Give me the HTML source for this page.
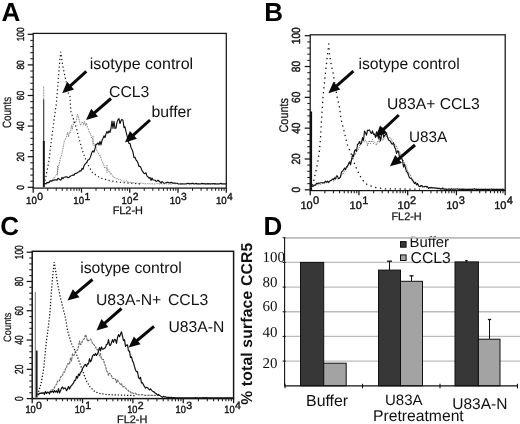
<!DOCTYPE html>
<html lang="en"><head><meta charset="utf-8"><title>Figure</title>
<style>
html,body{margin:0;padding:0;background:#fff;}
body{width:520px;height:424px;overflow:hidden;}
svg{display:block;}
</style></head><body>
<svg width="520" height="424" viewBox="0 0 520 424" text-rendering="geometricPrecision">
<rect x="0" y="0" width="520" height="424" fill="#fff"/>
<text x="1.6" y="21.1" font-family='"Liberation Sans", sans-serif' font-size="26" font-weight="bold" text-anchor="start" fill="#000" >A</text>
<rect x="33.20" y="33.40" width="193.10" height="154.70" fill="none" stroke="#151515" stroke-width="1.25"/>
<line x1="27.70" y1="187.30" x2="33.20" y2="187.30" stroke="#151515" stroke-width="1.25"/>
<line x1="30.30" y1="181.18" x2="33.20" y2="181.18" stroke="#222" stroke-width="1.1"/>
<line x1="30.30" y1="175.06" x2="33.20" y2="175.06" stroke="#222" stroke-width="1.1"/>
<line x1="30.30" y1="168.94" x2="33.20" y2="168.94" stroke="#222" stroke-width="1.1"/>
<line x1="30.30" y1="162.82" x2="33.20" y2="162.82" stroke="#222" stroke-width="1.1"/>
<line x1="27.70" y1="156.70" x2="33.20" y2="156.70" stroke="#151515" stroke-width="1.25"/>
<line x1="30.30" y1="150.58" x2="33.20" y2="150.58" stroke="#222" stroke-width="1.1"/>
<line x1="30.30" y1="144.46" x2="33.20" y2="144.46" stroke="#222" stroke-width="1.1"/>
<line x1="30.30" y1="138.34" x2="33.20" y2="138.34" stroke="#222" stroke-width="1.1"/>
<line x1="30.30" y1="132.22" x2="33.20" y2="132.22" stroke="#222" stroke-width="1.1"/>
<line x1="27.70" y1="126.10" x2="33.20" y2="126.10" stroke="#151515" stroke-width="1.25"/>
<line x1="30.30" y1="119.98" x2="33.20" y2="119.98" stroke="#222" stroke-width="1.1"/>
<line x1="30.30" y1="113.86" x2="33.20" y2="113.86" stroke="#222" stroke-width="1.1"/>
<line x1="30.30" y1="107.74" x2="33.20" y2="107.74" stroke="#222" stroke-width="1.1"/>
<line x1="30.30" y1="101.62" x2="33.20" y2="101.62" stroke="#222" stroke-width="1.1"/>
<line x1="27.70" y1="95.50" x2="33.20" y2="95.50" stroke="#151515" stroke-width="1.25"/>
<line x1="30.30" y1="89.38" x2="33.20" y2="89.38" stroke="#222" stroke-width="1.1"/>
<line x1="30.30" y1="83.26" x2="33.20" y2="83.26" stroke="#222" stroke-width="1.1"/>
<line x1="30.30" y1="77.14" x2="33.20" y2="77.14" stroke="#222" stroke-width="1.1"/>
<line x1="30.30" y1="71.02" x2="33.20" y2="71.02" stroke="#222" stroke-width="1.1"/>
<line x1="27.70" y1="64.90" x2="33.20" y2="64.90" stroke="#151515" stroke-width="1.25"/>
<line x1="30.30" y1="58.78" x2="33.20" y2="58.78" stroke="#222" stroke-width="1.1"/>
<line x1="30.30" y1="52.66" x2="33.20" y2="52.66" stroke="#222" stroke-width="1.1"/>
<line x1="30.30" y1="46.54" x2="33.20" y2="46.54" stroke="#222" stroke-width="1.1"/>
<line x1="30.30" y1="40.42" x2="33.20" y2="40.42" stroke="#222" stroke-width="1.1"/>
<line x1="27.70" y1="34.30" x2="33.20" y2="34.30" stroke="#151515" stroke-width="1.25"/>
<text transform="translate(24.00,187.30) rotate(-90) scale(0.82,1)" font-family='"Liberation Sans", sans-serif' font-size="10.3" text-anchor="middle" fill="#111" stroke="#111" stroke-width="0.4">0</text>
<text transform="translate(24.00,156.70) rotate(-90) scale(0.82,1)" font-family='"Liberation Sans", sans-serif' font-size="10.3" text-anchor="middle" fill="#111" stroke="#111" stroke-width="0.4">20</text>
<text transform="translate(24.00,126.10) rotate(-90) scale(0.82,1)" font-family='"Liberation Sans", sans-serif' font-size="10.3" text-anchor="middle" fill="#111" stroke="#111" stroke-width="0.4">40</text>
<text transform="translate(24.00,95.50) rotate(-90) scale(0.82,1)" font-family='"Liberation Sans", sans-serif' font-size="10.3" text-anchor="middle" fill="#111" stroke="#111" stroke-width="0.4">60</text>
<text transform="translate(24.00,64.90) rotate(-90) scale(0.82,1)" font-family='"Liberation Sans", sans-serif' font-size="10.3" text-anchor="middle" fill="#111" stroke="#111" stroke-width="0.4">80</text>
<text transform="translate(24.00,34.30) rotate(-90) scale(0.82,1)" font-family='"Liberation Sans", sans-serif' font-size="10.3" text-anchor="middle" fill="#111" stroke="#111" stroke-width="0.4">100</text>
<text transform="translate(10.60,112.50) rotate(-90)" font-family='"Liberation Sans", sans-serif' font-size="12" text-anchor="middle" fill="#111" stroke="#111" stroke-width="0.2" textLength="31.2" lengthAdjust="spacingAndGlyphs">Counts</text>
<line x1="33.20" y1="188.10" x2="33.20" y2="192.70" stroke="#151515" stroke-width="1.25"/>
<line x1="47.73" y1="188.10" x2="47.73" y2="190.70" stroke="#222" stroke-width="1.1"/>
<line x1="56.23" y1="188.10" x2="56.23" y2="190.70" stroke="#222" stroke-width="1.1"/>
<line x1="62.26" y1="188.10" x2="62.26" y2="190.70" stroke="#222" stroke-width="1.1"/>
<line x1="66.94" y1="188.10" x2="66.94" y2="190.70" stroke="#222" stroke-width="1.1"/>
<line x1="70.77" y1="188.10" x2="70.77" y2="190.70" stroke="#222" stroke-width="1.1"/>
<line x1="74.00" y1="188.10" x2="74.00" y2="190.70" stroke="#222" stroke-width="1.1"/>
<line x1="76.80" y1="188.10" x2="76.80" y2="190.70" stroke="#222" stroke-width="1.1"/>
<line x1="79.27" y1="188.10" x2="79.27" y2="190.70" stroke="#222" stroke-width="1.1"/>
<line x1="81.48" y1="188.10" x2="81.48" y2="192.70" stroke="#151515" stroke-width="1.25"/>
<line x1="96.01" y1="188.10" x2="96.01" y2="190.70" stroke="#222" stroke-width="1.1"/>
<line x1="104.51" y1="188.10" x2="104.51" y2="190.70" stroke="#222" stroke-width="1.1"/>
<line x1="110.54" y1="188.10" x2="110.54" y2="190.70" stroke="#222" stroke-width="1.1"/>
<line x1="115.22" y1="188.10" x2="115.22" y2="190.70" stroke="#222" stroke-width="1.1"/>
<line x1="119.04" y1="188.10" x2="119.04" y2="190.70" stroke="#222" stroke-width="1.1"/>
<line x1="122.27" y1="188.10" x2="122.27" y2="190.70" stroke="#222" stroke-width="1.1"/>
<line x1="125.07" y1="188.10" x2="125.07" y2="190.70" stroke="#222" stroke-width="1.1"/>
<line x1="127.54" y1="188.10" x2="127.54" y2="190.70" stroke="#222" stroke-width="1.1"/>
<line x1="129.75" y1="188.10" x2="129.75" y2="192.70" stroke="#151515" stroke-width="1.25"/>
<line x1="144.28" y1="188.10" x2="144.28" y2="190.70" stroke="#222" stroke-width="1.1"/>
<line x1="152.78" y1="188.10" x2="152.78" y2="190.70" stroke="#222" stroke-width="1.1"/>
<line x1="158.81" y1="188.10" x2="158.81" y2="190.70" stroke="#222" stroke-width="1.1"/>
<line x1="163.49" y1="188.10" x2="163.49" y2="190.70" stroke="#222" stroke-width="1.1"/>
<line x1="167.32" y1="188.10" x2="167.32" y2="190.70" stroke="#222" stroke-width="1.1"/>
<line x1="170.55" y1="188.10" x2="170.55" y2="190.70" stroke="#222" stroke-width="1.1"/>
<line x1="173.35" y1="188.10" x2="173.35" y2="190.70" stroke="#222" stroke-width="1.1"/>
<line x1="175.82" y1="188.10" x2="175.82" y2="190.70" stroke="#222" stroke-width="1.1"/>
<line x1="178.03" y1="188.10" x2="178.03" y2="192.70" stroke="#151515" stroke-width="1.25"/>
<line x1="192.56" y1="188.10" x2="192.56" y2="190.70" stroke="#222" stroke-width="1.1"/>
<line x1="201.06" y1="188.10" x2="201.06" y2="190.70" stroke="#222" stroke-width="1.1"/>
<line x1="207.09" y1="188.10" x2="207.09" y2="190.70" stroke="#222" stroke-width="1.1"/>
<line x1="211.77" y1="188.10" x2="211.77" y2="190.70" stroke="#222" stroke-width="1.1"/>
<line x1="215.59" y1="188.10" x2="215.59" y2="190.70" stroke="#222" stroke-width="1.1"/>
<line x1="218.82" y1="188.10" x2="218.82" y2="190.70" stroke="#222" stroke-width="1.1"/>
<line x1="221.62" y1="188.10" x2="221.62" y2="190.70" stroke="#222" stroke-width="1.1"/>
<line x1="224.09" y1="188.10" x2="224.09" y2="190.70" stroke="#222" stroke-width="1.1"/>
<line x1="226.30" y1="188.10" x2="226.30" y2="192.70" stroke="#151515" stroke-width="1.25"/>
<text transform="translate(36.90,204.30) scale(0.94,1)" font-family='"Liberation Sans", sans-serif' font-size="10.3" text-anchor="end" fill="#111" stroke="#111" stroke-width="0.4">10</text>
<text x="37.20" y="199.60" font-family='"Liberation Sans", sans-serif' font-size="10.3" text-anchor="start" fill="#111" stroke="#111" stroke-width="0.4">0</text>
<text transform="translate(84.08,204.30) scale(0.94,1)" font-family='"Liberation Sans", sans-serif' font-size="10.3" text-anchor="end" fill="#111" stroke="#111" stroke-width="0.4">10</text>
<text x="84.38" y="199.60" font-family='"Liberation Sans", sans-serif' font-size="10.3" text-anchor="start" fill="#111" stroke="#111" stroke-width="0.4">1</text>
<text transform="translate(132.35,204.30) scale(0.94,1)" font-family='"Liberation Sans", sans-serif' font-size="10.3" text-anchor="end" fill="#111" stroke="#111" stroke-width="0.4">10</text>
<text x="132.65" y="199.60" font-family='"Liberation Sans", sans-serif' font-size="10.3" text-anchor="start" fill="#111" stroke="#111" stroke-width="0.4">2</text>
<text transform="translate(180.63,204.30) scale(0.94,1)" font-family='"Liberation Sans", sans-serif' font-size="10.3" text-anchor="end" fill="#111" stroke="#111" stroke-width="0.4">10</text>
<text x="180.93" y="199.60" font-family='"Liberation Sans", sans-serif' font-size="10.3" text-anchor="start" fill="#111" stroke="#111" stroke-width="0.4">3</text>
<text transform="translate(226.70,204.30) scale(0.94,1)" font-family='"Liberation Sans", sans-serif' font-size="10.3" text-anchor="end" fill="#111" stroke="#111" stroke-width="0.4">10</text>
<text x="227.00" y="199.60" font-family='"Liberation Sans", sans-serif' font-size="10.3" text-anchor="start" fill="#111" stroke="#111" stroke-width="0.4">4</text>
<text x="127.80" y="214.40" font-family='"Liberation Sans", sans-serif' font-size="10.9" text-anchor="middle" fill="#111" stroke="#111" stroke-width="0.25">FL2-H</text>
<line x1="43.7" y1="187.1" x2="43.7" y2="86.0" stroke="#777" stroke-width="0.9" stroke-dasharray="1 0.6"/>
<line x1="43.7" y1="187.1" x2="43.7" y2="99.4" stroke="#333" stroke-width="1.0"/>
<line x1="43.8" y1="187.1" x2="43.8" y2="141.0" stroke="#111" stroke-width="1.9"/>
<line x1="57.6" y1="166.0" x2="57.6" y2="175.5" stroke="#777" stroke-width="1" stroke-dasharray="1 0.7"/>
<line x1="93.0" y1="136.0" x2="93.0" y2="146.0" stroke="#777" stroke-width="1" stroke-dasharray="1 0.7"/>
<line x1="107.0" y1="165.0" x2="107.0" y2="173.0" stroke="#777" stroke-width="1" stroke-dasharray="1 0.7"/>
<polyline points="44.5,184.0 45.0,181.5 48.9,161.0 51.5,139.6 54.2,118.5 56.3,104.0 57.5,90.0 58.8,72.5 59.8,60.0 60.8,52.0 61.6,58.0 62.6,65.0 64.4,73.8 66.9,85.0 68.3,93.0 70.0,96.5 70.4,105.0 71.0,112.0 72.6,116.5 76.6,129.0 79.3,139.6 83.2,152.8 87.2,163.4 92.5,172.7 100.4,178.0 111.0,181.0 121.5,182.5 140.0,183.9" fill="none" stroke="#111" stroke-width="1.2" stroke-dasharray="1.2 2.6" stroke-dashoffset="0.50" stroke-linejoin="round" />
<polyline points="44.5,183.9 45.5,183.7 46.5,182.8 47.5,182.9 48.5,182.0 49.5,181.0 50.5,180.7 51.5,180.5 52.5,179.5 53.5,177.6 54.5,177.8 55.5,175.8 56.5,174.5 57.5,171.8 58.5,166.1 59.5,163.0 60.5,157.1 61.5,155.8 62.5,150.5 63.5,145.5 64.5,140.3 65.5,139.0 66.5,136.6 67.5,132.1 68.5,136.9 69.5,131.7 70.5,132.6 71.5,125.3 72.5,129.3 73.5,121.5 74.5,121.5 75.5,122.8 76.5,120.5 77.5,114.3 78.5,116.8 79.5,121.6 80.5,125.2 81.5,123.5 82.5,121.8 83.5,124.8 84.5,121.5 85.5,125.8 86.5,123.2 87.5,127.6 88.5,129.1 89.5,132.8 90.5,132.9 91.5,138.3 92.5,138.3 93.5,142.9 94.5,145.6 95.5,144.1 96.5,149.8 97.5,152.1 98.5,152.8 99.5,156.2 100.5,155.8 101.5,160.4 102.5,162.2 103.5,163.7 104.5,168.0 105.5,167.1 106.5,168.2 107.5,168.7 108.5,171.2 109.5,171.3 110.5,174.5 111.5,173.7 112.5,175.2 113.5,177.5 114.5,177.6 115.5,177.7 116.5,179.1 117.5,178.6 118.5,179.6 119.5,179.5 120.5,179.4 121.5,180.6 122.5,181.3 123.5,181.1 124.5,181.0 125.5,181.5 126.5,180.8 127.5,181.7 128.5,181.7 129.5,183.1 130.5,182.2 131.5,181.9 132.5,183.0 133.5,182.7 134.5,182.9 135.5,183.1 136.5,183.1 137.5,183.0 138.5,183.5 139.5,183.4 140.5,183.1 141.5,183.3 142.5,183.1 143.5,183.5 144.5,183.7 145.5,183.7 146.5,183.8 147.5,183.6 148.5,184.0 149.5,183.7 150.5,183.8 151.5,183.7 152.5,183.8 153.5,183.8 154.5,184.0 155.5,183.9 156.5,183.4 157.5,183.7 158.5,183.5 159.5,184.0 160.5,184.0 161.5,183.7 162.5,184.0 163.5,183.8 164.5,183.9 165.5,184.0 166.5,183.8 167.5,183.6 168.5,184.0 169.5,184.0 170.5,184.0 171.5,184.0 172.5,183.7 173.5,183.4 174.5,184.0 175.5,183.8 176.5,183.6 177.5,183.6 178.5,184.0 179.5,183.9 180.5,183.9 181.5,184.0 182.5,183.7 183.5,183.6 184.5,183.7 185.5,183.7 186.5,183.8 187.5,183.7 188.5,183.9 189.5,183.8 190.5,183.9 191.5,184.0 192.5,184.0 193.5,184.0 194.5,183.9 195.5,184.0 196.5,183.8 197.5,184.0 198.5,184.0 199.5,183.8 200.5,184.0 201.5,183.9 202.5,183.9 203.5,184.0 204.5,183.9 205.5,184.0 206.5,183.6 207.5,183.8 208.5,183.9 209.5,183.7 210.5,184.0 211.5,183.7 212.5,184.0 213.5,183.7 214.5,183.9 215.5,184.0 216.5,184.0 217.5,184.0 218.5,184.0 219.5,184.0 220.5,184.0 221.5,183.9 222.5,183.9 223.5,183.7 224.5,184.0 225.5,184.0 226.5,183.9" fill="none" stroke="#777" stroke-width="1.0" stroke-dasharray="1 0.8" stroke-linejoin="round" />
<polyline points="44.0,184.0 45.0,183.5 46.0,184.0 47.0,182.6 48.0,182.4 49.0,182.7 50.0,181.1 51.0,180.9 52.0,181.1 53.0,180.6 54.0,179.8 55.0,180.1 56.0,179.8 57.0,180.1 58.0,178.4 59.0,178.8 60.0,179.8 61.0,180.1 62.0,177.4 63.0,178.7 64.0,177.2 65.0,177.1 66.0,176.8 67.0,176.9 68.0,177.8 69.0,177.3 70.0,176.5 71.0,175.7 72.0,175.5 73.0,174.9 74.0,175.3 75.0,173.4 76.0,173.5 77.0,172.9 78.0,172.3 79.0,171.8 80.0,170.7 81.0,171.1 82.0,168.4 83.0,169.4 84.0,165.9 85.0,164.1 86.0,163.1 87.0,161.8 88.0,159.9 89.0,159.8 90.0,157.9 91.0,155.2 92.0,152.1 93.0,150.9 94.0,152.1 95.0,148.6 96.0,144.4 97.0,144.1 98.0,142.9 99.0,145.0 100.0,141.4 101.0,144.9 102.0,140.5 103.0,138.3 104.0,135.9 105.0,137.6 106.0,133.9 107.0,131.4 108.0,133.3 109.0,130.9 110.0,132.4 111.0,128.5 112.0,121.1 113.0,128.4 114.0,121.3 115.0,128.3 116.0,128.1 117.0,122.1 118.0,119.7 119.0,118.7 120.0,123.6 121.0,120.7 122.0,119.4 123.0,120.4 124.0,127.6 125.0,126.8 126.0,131.7 127.0,135.6 128.0,139.8 129.0,143.5 130.0,143.5 131.0,147.5 132.0,149.4 133.0,152.3 134.0,157.7 135.0,157.2 136.0,159.9 137.0,161.0 138.0,163.1 139.0,166.5 140.0,166.4 141.0,167.9 142.0,170.6 143.0,171.9 144.0,173.3 145.0,173.7 146.0,172.8 147.0,176.1 148.0,176.9 149.0,178.2 150.0,177.4 151.0,180.4 152.0,178.1 153.0,180.0 154.0,180.0 155.0,180.2 156.0,181.4 157.0,181.0 158.0,180.2 159.0,181.0 160.0,182.0 161.0,183.1 162.0,181.5 163.0,182.4 164.0,183.2 165.0,183.0 166.0,182.7 167.0,182.4 168.0,182.3 169.0,182.7 170.0,182.9 171.0,182.3 172.0,182.6 173.0,183.3 174.0,183.1 175.0,183.1 176.0,183.3 177.0,183.2 178.0,183.8 179.0,184.0 180.0,184.0 181.0,183.8 182.0,183.8 183.0,184.0 184.0,184.0 185.0,184.0 186.0,184.0 187.0,183.5 188.0,183.2 189.0,183.9 190.0,183.6 191.0,183.7 192.0,183.4 193.0,183.3 194.0,184.0 195.0,183.8 196.0,183.4 197.0,183.8 198.0,183.8 199.0,183.9 200.0,184.0 201.0,183.7 202.0,183.4 203.0,183.8 204.0,183.6 205.0,183.9 206.0,183.8 207.0,183.9 208.0,183.6 209.0,183.9 210.0,183.7 211.0,183.9 212.0,183.7 213.0,183.5 214.0,183.9 215.0,183.6 216.0,184.0 217.0,183.9 218.0,184.0 219.0,183.9 220.0,183.8 221.0,183.3 222.0,184.0 223.0,183.7 224.0,184.0 225.0,183.7 226.0,183.9 227.0,183.8" fill="none" stroke="#111" stroke-width="1.15" stroke-linejoin="round" />
<text x="89.8" y="69.0" font-family='"Liberation Sans", sans-serif' font-size="16.05" font-weight="normal" text-anchor="start" fill="#111" >isotype control</text>
<text x="109.0" y="96.5" font-family='"Liberation Sans", sans-serif' font-size="15.8" font-weight="normal" text-anchor="start" fill="#111" >CCL3</text>
<text x="151.5" y="117.0" font-family='"Liberation Sans", sans-serif' font-size="15.8" font-weight="normal" text-anchor="start" fill="#111" >buffer</text>
<line x1="86.3" y1="71.4" x2="69.8" y2="86.3" stroke="#0a0a0a" stroke-width="3.0"/>
<polygon points="62.2,93.2 67.1,81.8 74.1,89.5" fill="#0a0a0a"/>
<line x1="111.0" y1="98.5" x2="93.8" y2="113.3" stroke="#0a0a0a" stroke-width="3.0"/>
<polygon points="86.0,120.0 91.2,108.7 98.0,116.6" fill="#0a0a0a"/>
<line x1="150.0" y1="120.0" x2="132.7" y2="135.6" stroke="#0a0a0a" stroke-width="3.0"/>
<polygon points="125.0,142.5 129.9,131.1 136.9,138.8" fill="#0a0a0a"/>
<text x="264.2" y="20.5" font-family='"Liberation Sans", sans-serif' font-size="26" font-weight="bold" text-anchor="start" fill="#000" >B</text>
<rect x="310.20" y="34.80" width="195.00" height="155.80" fill="none" stroke="#151515" stroke-width="1.25"/>
<line x1="304.70" y1="189.80" x2="310.20" y2="189.80" stroke="#151515" stroke-width="1.25"/>
<line x1="307.30" y1="183.64" x2="310.20" y2="183.64" stroke="#222" stroke-width="1.1"/>
<line x1="307.30" y1="177.47" x2="310.20" y2="177.47" stroke="#222" stroke-width="1.1"/>
<line x1="307.30" y1="171.31" x2="310.20" y2="171.31" stroke="#222" stroke-width="1.1"/>
<line x1="307.30" y1="165.14" x2="310.20" y2="165.14" stroke="#222" stroke-width="1.1"/>
<line x1="304.70" y1="158.98" x2="310.20" y2="158.98" stroke="#151515" stroke-width="1.25"/>
<line x1="307.30" y1="152.82" x2="310.20" y2="152.82" stroke="#222" stroke-width="1.1"/>
<line x1="307.30" y1="146.65" x2="310.20" y2="146.65" stroke="#222" stroke-width="1.1"/>
<line x1="307.30" y1="140.49" x2="310.20" y2="140.49" stroke="#222" stroke-width="1.1"/>
<line x1="307.30" y1="134.32" x2="310.20" y2="134.32" stroke="#222" stroke-width="1.1"/>
<line x1="304.70" y1="128.16" x2="310.20" y2="128.16" stroke="#151515" stroke-width="1.25"/>
<line x1="307.30" y1="122.00" x2="310.20" y2="122.00" stroke="#222" stroke-width="1.1"/>
<line x1="307.30" y1="115.83" x2="310.20" y2="115.83" stroke="#222" stroke-width="1.1"/>
<line x1="307.30" y1="109.67" x2="310.20" y2="109.67" stroke="#222" stroke-width="1.1"/>
<line x1="307.30" y1="103.50" x2="310.20" y2="103.50" stroke="#222" stroke-width="1.1"/>
<line x1="304.70" y1="97.34" x2="310.20" y2="97.34" stroke="#151515" stroke-width="1.25"/>
<line x1="307.30" y1="91.18" x2="310.20" y2="91.18" stroke="#222" stroke-width="1.1"/>
<line x1="307.30" y1="85.01" x2="310.20" y2="85.01" stroke="#222" stroke-width="1.1"/>
<line x1="307.30" y1="78.85" x2="310.20" y2="78.85" stroke="#222" stroke-width="1.1"/>
<line x1="307.30" y1="72.68" x2="310.20" y2="72.68" stroke="#222" stroke-width="1.1"/>
<line x1="304.70" y1="66.52" x2="310.20" y2="66.52" stroke="#151515" stroke-width="1.25"/>
<line x1="307.30" y1="60.36" x2="310.20" y2="60.36" stroke="#222" stroke-width="1.1"/>
<line x1="307.30" y1="54.19" x2="310.20" y2="54.19" stroke="#222" stroke-width="1.1"/>
<line x1="307.30" y1="48.03" x2="310.20" y2="48.03" stroke="#222" stroke-width="1.1"/>
<line x1="307.30" y1="41.86" x2="310.20" y2="41.86" stroke="#222" stroke-width="1.1"/>
<line x1="304.70" y1="35.70" x2="310.20" y2="35.70" stroke="#151515" stroke-width="1.25"/>
<text transform="translate(299.60,189.80) rotate(-90) scale(0.86,1)" font-family='"Liberation Sans", sans-serif' font-size="11.8" text-anchor="middle" fill="#111" stroke="#111" stroke-width="0.4">0</text>
<text transform="translate(299.60,158.98) rotate(-90) scale(0.86,1)" font-family='"Liberation Sans", sans-serif' font-size="11.8" text-anchor="middle" fill="#111" stroke="#111" stroke-width="0.4">20</text>
<text transform="translate(299.60,128.16) rotate(-90) scale(0.86,1)" font-family='"Liberation Sans", sans-serif' font-size="11.8" text-anchor="middle" fill="#111" stroke="#111" stroke-width="0.4">40</text>
<text transform="translate(299.60,97.34) rotate(-90) scale(0.86,1)" font-family='"Liberation Sans", sans-serif' font-size="11.8" text-anchor="middle" fill="#111" stroke="#111" stroke-width="0.4">60</text>
<text transform="translate(299.60,66.52) rotate(-90) scale(0.86,1)" font-family='"Liberation Sans", sans-serif' font-size="11.8" text-anchor="middle" fill="#111" stroke="#111" stroke-width="0.4">80</text>
<text transform="translate(299.60,35.70) rotate(-90) scale(0.86,1)" font-family='"Liberation Sans", sans-serif' font-size="11.8" text-anchor="middle" fill="#111" stroke="#111" stroke-width="0.4">100</text>
<text transform="translate(287.60,115.30) rotate(-90)" font-family='"Liberation Sans", sans-serif' font-size="12.6" text-anchor="middle" fill="#111" stroke="#111" stroke-width="0.2" textLength="34.4" lengthAdjust="spacingAndGlyphs">Counts</text>
<line x1="310.20" y1="190.60" x2="310.20" y2="195.20" stroke="#151515" stroke-width="1.25"/>
<line x1="324.88" y1="190.60" x2="324.88" y2="193.20" stroke="#222" stroke-width="1.1"/>
<line x1="333.46" y1="190.60" x2="333.46" y2="193.20" stroke="#222" stroke-width="1.1"/>
<line x1="339.55" y1="190.60" x2="339.55" y2="193.20" stroke="#222" stroke-width="1.1"/>
<line x1="344.27" y1="190.60" x2="344.27" y2="193.20" stroke="#222" stroke-width="1.1"/>
<line x1="348.13" y1="190.60" x2="348.13" y2="193.20" stroke="#222" stroke-width="1.1"/>
<line x1="351.40" y1="190.60" x2="351.40" y2="193.20" stroke="#222" stroke-width="1.1"/>
<line x1="354.23" y1="190.60" x2="354.23" y2="193.20" stroke="#222" stroke-width="1.1"/>
<line x1="356.72" y1="190.60" x2="356.72" y2="193.20" stroke="#222" stroke-width="1.1"/>
<line x1="358.95" y1="190.60" x2="358.95" y2="195.20" stroke="#151515" stroke-width="1.25"/>
<line x1="373.63" y1="190.60" x2="373.63" y2="193.20" stroke="#222" stroke-width="1.1"/>
<line x1="382.21" y1="190.60" x2="382.21" y2="193.20" stroke="#222" stroke-width="1.1"/>
<line x1="388.30" y1="190.60" x2="388.30" y2="193.20" stroke="#222" stroke-width="1.1"/>
<line x1="393.02" y1="190.60" x2="393.02" y2="193.20" stroke="#222" stroke-width="1.1"/>
<line x1="396.88" y1="190.60" x2="396.88" y2="193.20" stroke="#222" stroke-width="1.1"/>
<line x1="400.15" y1="190.60" x2="400.15" y2="193.20" stroke="#222" stroke-width="1.1"/>
<line x1="402.98" y1="190.60" x2="402.98" y2="193.20" stroke="#222" stroke-width="1.1"/>
<line x1="405.47" y1="190.60" x2="405.47" y2="193.20" stroke="#222" stroke-width="1.1"/>
<line x1="407.70" y1="190.60" x2="407.70" y2="195.20" stroke="#151515" stroke-width="1.25"/>
<line x1="422.38" y1="190.60" x2="422.38" y2="193.20" stroke="#222" stroke-width="1.1"/>
<line x1="430.96" y1="190.60" x2="430.96" y2="193.20" stroke="#222" stroke-width="1.1"/>
<line x1="437.05" y1="190.60" x2="437.05" y2="193.20" stroke="#222" stroke-width="1.1"/>
<line x1="441.77" y1="190.60" x2="441.77" y2="193.20" stroke="#222" stroke-width="1.1"/>
<line x1="445.63" y1="190.60" x2="445.63" y2="193.20" stroke="#222" stroke-width="1.1"/>
<line x1="448.90" y1="190.60" x2="448.90" y2="193.20" stroke="#222" stroke-width="1.1"/>
<line x1="451.73" y1="190.60" x2="451.73" y2="193.20" stroke="#222" stroke-width="1.1"/>
<line x1="454.22" y1="190.60" x2="454.22" y2="193.20" stroke="#222" stroke-width="1.1"/>
<line x1="456.45" y1="190.60" x2="456.45" y2="195.20" stroke="#151515" stroke-width="1.25"/>
<line x1="471.13" y1="190.60" x2="471.13" y2="193.20" stroke="#222" stroke-width="1.1"/>
<line x1="479.71" y1="190.60" x2="479.71" y2="193.20" stroke="#222" stroke-width="1.1"/>
<line x1="485.80" y1="190.60" x2="485.80" y2="193.20" stroke="#222" stroke-width="1.1"/>
<line x1="490.52" y1="190.60" x2="490.52" y2="193.20" stroke="#222" stroke-width="1.1"/>
<line x1="494.38" y1="190.60" x2="494.38" y2="193.20" stroke="#222" stroke-width="1.1"/>
<line x1="497.65" y1="190.60" x2="497.65" y2="193.20" stroke="#222" stroke-width="1.1"/>
<line x1="500.48" y1="190.60" x2="500.48" y2="193.20" stroke="#222" stroke-width="1.1"/>
<line x1="502.97" y1="190.60" x2="502.97" y2="193.20" stroke="#222" stroke-width="1.1"/>
<line x1="505.20" y1="190.60" x2="505.20" y2="195.20" stroke="#151515" stroke-width="1.25"/>
<text transform="translate(312.70,209.00) scale(1.00,1)" font-family='"Liberation Sans", sans-serif' font-size="11" text-anchor="end" fill="#111" stroke="#111" stroke-width="0.4">10</text>
<text x="313.00" y="204.30" font-family='"Liberation Sans", sans-serif' font-size="11" text-anchor="start" fill="#111" stroke="#111" stroke-width="0.4">0</text>
<text transform="translate(361.85,209.00) scale(1.00,1)" font-family='"Liberation Sans", sans-serif' font-size="11" text-anchor="end" fill="#111" stroke="#111" stroke-width="0.4">10</text>
<text x="362.15" y="204.30" font-family='"Liberation Sans", sans-serif' font-size="11" text-anchor="start" fill="#111" stroke="#111" stroke-width="0.4">1</text>
<text transform="translate(409.80,209.00) scale(1.00,1)" font-family='"Liberation Sans", sans-serif' font-size="11" text-anchor="end" fill="#111" stroke="#111" stroke-width="0.4">10</text>
<text x="410.10" y="204.30" font-family='"Liberation Sans", sans-serif' font-size="11" text-anchor="start" fill="#111" stroke="#111" stroke-width="0.4">2</text>
<text transform="translate(458.45,209.00) scale(1.00,1)" font-family='"Liberation Sans", sans-serif' font-size="11" text-anchor="end" fill="#111" stroke="#111" stroke-width="0.4">10</text>
<text x="458.75" y="204.30" font-family='"Liberation Sans", sans-serif' font-size="11" text-anchor="start" fill="#111" stroke="#111" stroke-width="0.4">3</text>
<text transform="translate(506.40,209.00) scale(1.00,1)" font-family='"Liberation Sans", sans-serif' font-size="11" text-anchor="end" fill="#111" stroke="#111" stroke-width="0.4">10</text>
<text x="506.70" y="204.30" font-family='"Liberation Sans", sans-serif' font-size="11" text-anchor="start" fill="#111" stroke="#111" stroke-width="0.4">4</text>
<text x="406.60" y="220.00" font-family='"Liberation Sans", sans-serif' font-size="10.9" text-anchor="middle" fill="#111" stroke="#111" stroke-width="0.25">FL2-H</text>
<line x1="311" y1="111.5" x2="311" y2="190.6" stroke="#111" stroke-width="2.2"/>
<polyline points="311.5,188.0 313.0,184.0 315.0,175.0 317.5,164.0 319.5,150.0 320.5,138.0 321.2,125.0 322.0,112.5 323.0,97.5 324.2,85.0 325.5,72.5 327.0,59.0 328.8,44.0 329.5,54.0 331.2,65.0 333.0,72.5 335.0,85.0 337.0,96.2 339.5,107.5 341.2,120.0 343.8,130.0 346.2,140.0 347.5,145.0 351.2,153.8 355.0,165.0 358.8,173.8 362.5,180.0 367.5,185.0 375.0,187.5 385.0,188.8 420.0,189.2" fill="none" stroke="#111" stroke-width="1.3" stroke-dasharray="1.3 3.6" stroke-dashoffset="2.30" stroke-linejoin="round" />
<polyline points="311.5,187.5 312.5,186.7 313.5,186.4 314.5,186.0 315.5,184.8 316.5,185.5 317.5,184.4 318.5,184.9 319.5,184.2 320.5,184.7 321.5,183.7 322.5,183.5 323.5,182.6 324.5,183.4 325.5,182.6 326.5,182.9 327.5,182.7 328.5,182.5 329.5,181.6 330.5,180.3 331.5,180.5 332.5,181.5 333.5,181.1 334.5,180.8 335.5,179.0 336.5,178.1 337.5,179.0 338.5,178.5 339.5,177.2 340.5,176.3 341.5,174.1 342.5,173.8 343.5,174.0 344.5,170.7 345.5,169.7 346.5,168.4 347.5,166.7 348.5,163.4 349.5,163.2 350.5,161.3 351.5,159.6 352.5,157.5 353.5,156.0 354.5,152.7 355.5,154.5 356.5,150.1 357.5,150.9 358.5,149.5 359.5,146.2 360.5,143.0 361.5,140.5 362.5,140.6 363.5,141.8 364.5,141.9 365.5,140.3 366.5,140.8 367.5,146.0 368.5,142.5 369.5,140.5 370.5,143.5 371.5,141.4 372.5,139.5 373.5,143.6 374.5,142.3 375.5,143.3 376.5,145.3 377.5,142.0 378.5,139.7 379.5,142.8 380.5,136.2 381.5,137.0 382.5,140.3 383.5,139.7 384.5,136.2 385.5,135.3 386.5,137.2 387.5,137.5 388.5,137.7 389.5,137.7 390.5,137.7 391.5,139.9 392.5,141.7 393.5,143.1 394.5,144.0 395.5,146.2 396.5,145.3 397.5,150.7 398.5,153.0 399.5,152.0 400.5,152.9 401.5,157.1 402.5,159.3 403.5,160.6 404.5,164.1 405.5,164.7 406.5,166.5 407.5,171.5 408.5,172.0 409.5,174.5 410.5,174.9 411.5,177.9 412.5,179.1 413.5,180.7 414.5,182.2 415.5,182.7 416.5,182.6 417.5,184.5 418.5,184.8 419.5,185.4 420.5,185.5 421.5,185.9 422.5,185.7 423.5,186.0 424.5,186.7 425.5,187.0 426.5,187.6 427.5,186.6 428.5,187.6 429.5,187.6 430.5,188.3 431.5,187.9 432.5,188.0 433.5,188.3 434.5,188.5 435.5,188.0 436.5,188.3 437.5,188.9 438.5,188.9 439.5,188.9 440.5,189.3 441.5,188.7 442.5,189.0 443.5,188.9 444.5,189.1 445.5,188.9 446.5,189.1 447.5,189.4 448.5,189.2 449.5,189.1 450.5,189.4 451.5,189.2 452.5,189.4 453.5,188.9 454.5,188.9 455.5,188.7 456.5,188.9 457.5,188.8 458.5,189.4 459.5,189.2 460.5,189.3 461.5,189.2 462.5,189.2 463.5,189.1 464.5,188.9 465.5,189.4 466.5,189.1 467.5,189.4 468.5,189.3 469.5,189.0 470.5,189.2 471.5,189.2 472.5,189.1 473.5,189.1 474.5,189.2 475.5,189.1 476.5,189.1 477.5,189.3 478.5,189.3 479.5,189.2 480.5,189.4 481.5,189.2 482.5,189.4 483.5,189.3 484.5,189.4 485.5,189.0 486.5,189.4 487.5,189.3 488.5,189.4 489.5,189.3 490.5,189.3 491.5,189.4 492.5,189.3 493.5,189.3 494.5,189.4 495.5,189.4 496.5,189.1 497.5,189.4 498.5,189.4 499.5,189.4 500.5,189.4 501.5,189.1 502.5,189.2 503.5,189.4 504.5,189.3" fill="none" stroke="#555" stroke-width="1.0" stroke-dasharray="1 1.2" stroke-linejoin="round" />
<polyline points="311.5,186.2 312.5,186.4 313.5,185.7 314.5,185.1 315.5,185.2 316.5,183.4 317.5,183.5 318.5,183.1 319.5,183.3 320.5,182.8 321.5,182.7 322.5,182.8 323.5,182.9 324.5,182.4 325.5,181.2 326.5,182.1 327.5,181.1 328.5,182.6 329.5,181.4 330.5,180.5 331.5,180.2 332.5,178.9 333.5,179.6 334.5,177.8 335.5,178.9 336.5,175.9 337.5,176.1 338.5,178.7 339.5,178.2 340.5,177.1 341.5,172.0 342.5,171.1 343.5,169.8 344.5,168.1 345.5,169.6 346.5,167.0 347.5,166.2 348.5,163.9 349.5,161.8 350.5,164.8 351.5,160.1 352.5,154.8 353.5,156.8 354.5,150.9 355.5,149.7 356.5,151.3 357.5,144.5 358.5,143.7 359.5,141.5 360.5,144.3 361.5,143.2 362.5,137.6 363.5,140.4 364.5,131.1 365.5,132.7 366.5,135.2 367.5,130.2 368.5,130.5 369.5,129.9 370.5,132.4 371.5,133.5 372.5,130.9 373.5,134.4 374.5,133.9 375.5,137.4 376.5,131.8 377.5,133.8 378.5,138.3 379.5,136.0 380.5,140.8 381.5,134.5 382.5,128.0 383.5,137.2 384.5,135.5 385.5,134.8 386.5,133.3 387.5,137.0 388.5,140.0 389.5,140.6 390.5,141.3 391.5,143.8 392.5,144.1 393.5,142.8 394.5,147.0 395.5,148.9 396.5,153.4 397.5,151.3 398.5,151.1 399.5,157.6 400.5,158.8 401.5,158.7 402.5,160.0 403.5,167.0 404.5,164.1 405.5,168.1 406.5,171.8 407.5,172.2 408.5,175.2 409.5,177.7 410.5,178.2 411.5,178.7 412.5,180.4 413.5,181.7 414.5,183.6 415.5,182.3 416.5,184.9 417.5,183.5 418.5,185.7 419.5,186.6 420.5,186.3 421.5,185.5 422.5,187.0 423.5,186.8 424.5,186.6 425.5,186.4 426.5,186.5 427.5,186.9 428.5,188.5 429.5,187.6 430.5,187.8 431.5,187.4 432.5,187.9 433.5,187.8 434.5,187.7 435.5,188.2 436.5,188.0 437.5,188.4 438.5,188.4 439.5,188.3 440.5,188.9 441.5,189.0 442.5,188.0 443.5,189.0 444.5,189.1 445.5,189.1 446.5,189.4 447.5,189.2 448.5,189.1 449.5,189.0 450.5,189.4 451.5,188.8 452.5,189.2 453.5,189.1 454.5,189.2 455.5,189.2 456.5,189.0 457.5,189.0 458.5,189.3 459.5,189.1 460.5,189.4 461.5,189.4 462.5,189.1 463.5,189.4 464.5,189.3 465.5,189.4 466.5,189.4 467.5,189.4 468.5,189.2 469.5,189.4 470.5,189.4 471.5,189.4 472.5,189.4 473.5,189.1 474.5,188.7 475.5,189.3 476.5,189.3 477.5,189.3 478.5,189.4 479.5,189.4 480.5,189.4 481.5,189.3 482.5,189.4 483.5,189.4 484.5,189.2 485.5,189.4 486.5,189.4 487.5,189.4 488.5,189.4 489.5,189.4 490.5,189.3 491.5,189.1 492.5,189.4 493.5,189.4 494.5,189.4 495.5,189.4 496.5,189.4 497.5,189.4 498.5,189.4 499.5,189.4 500.5,189.4 501.5,189.4 502.5,189.4 503.5,189.4 504.5,189.4" fill="none" stroke="#111" stroke-width="1.15" stroke-linejoin="round" />
<text x="358.5" y="69.0" font-family='"Liberation Sans", sans-serif' font-size="15.7" font-weight="normal" text-anchor="start" fill="#111" >isotype control</text>
<text x="386.9" y="108.5" font-family='"Liberation Sans", sans-serif' font-size="15.7" font-weight="normal" text-anchor="start" fill="#111" >U83A+ CCL3</text>
<text x="409.0" y="141.5" font-family='"Liberation Sans", sans-serif' font-size="15.3" font-weight="normal" text-anchor="start" fill="#111" >U83A</text>
<line x1="353.4" y1="71.2" x2="336.1" y2="86.4" stroke="#0a0a0a" stroke-width="3.0"/>
<polygon points="328.4,93.2 333.4,81.8 340.3,89.6" fill="#0a0a0a"/>
<line x1="398.8" y1="115.0" x2="383.0" y2="129.9" stroke="#0a0a0a" stroke-width="3.0"/>
<polygon points="375.5,137.0 380.1,125.5 387.3,133.0" fill="#0a0a0a"/>
<line x1="415.0" y1="145.0" x2="397.8" y2="159.6" stroke="#0a0a0a" stroke-width="3.0"/>
<polygon points="390.0,166.2 395.2,155.0 402.0,162.9" fill="#0a0a0a"/>
<text x="0.2" y="234.8" font-family='"Liberation Sans", sans-serif' font-size="26" font-weight="bold" text-anchor="start" fill="#000" >C</text>
<rect x="32.20" y="251.30" width="201.40" height="147.30" fill="none" stroke="#151515" stroke-width="1.5"/>
<line x1="26.70" y1="398.60" x2="32.20" y2="398.60" stroke="#151515" stroke-width="1.25"/>
<line x1="29.30" y1="392.74" x2="32.20" y2="392.74" stroke="#222" stroke-width="1.1"/>
<line x1="29.30" y1="386.89" x2="32.20" y2="386.89" stroke="#222" stroke-width="1.1"/>
<line x1="29.30" y1="381.03" x2="32.20" y2="381.03" stroke="#222" stroke-width="1.1"/>
<line x1="29.30" y1="375.18" x2="32.20" y2="375.18" stroke="#222" stroke-width="1.1"/>
<line x1="26.70" y1="369.32" x2="32.20" y2="369.32" stroke="#151515" stroke-width="1.25"/>
<line x1="29.30" y1="363.46" x2="32.20" y2="363.46" stroke="#222" stroke-width="1.1"/>
<line x1="29.30" y1="357.61" x2="32.20" y2="357.61" stroke="#222" stroke-width="1.1"/>
<line x1="29.30" y1="351.75" x2="32.20" y2="351.75" stroke="#222" stroke-width="1.1"/>
<line x1="29.30" y1="345.90" x2="32.20" y2="345.90" stroke="#222" stroke-width="1.1"/>
<line x1="26.70" y1="340.04" x2="32.20" y2="340.04" stroke="#151515" stroke-width="1.25"/>
<line x1="29.30" y1="334.18" x2="32.20" y2="334.18" stroke="#222" stroke-width="1.1"/>
<line x1="29.30" y1="328.33" x2="32.20" y2="328.33" stroke="#222" stroke-width="1.1"/>
<line x1="29.30" y1="322.47" x2="32.20" y2="322.47" stroke="#222" stroke-width="1.1"/>
<line x1="29.30" y1="316.62" x2="32.20" y2="316.62" stroke="#222" stroke-width="1.1"/>
<line x1="26.70" y1="310.76" x2="32.20" y2="310.76" stroke="#151515" stroke-width="1.25"/>
<line x1="29.30" y1="304.90" x2="32.20" y2="304.90" stroke="#222" stroke-width="1.1"/>
<line x1="29.30" y1="299.05" x2="32.20" y2="299.05" stroke="#222" stroke-width="1.1"/>
<line x1="29.30" y1="293.19" x2="32.20" y2="293.19" stroke="#222" stroke-width="1.1"/>
<line x1="29.30" y1="287.34" x2="32.20" y2="287.34" stroke="#222" stroke-width="1.1"/>
<line x1="26.70" y1="281.48" x2="32.20" y2="281.48" stroke="#151515" stroke-width="1.25"/>
<line x1="29.30" y1="275.62" x2="32.20" y2="275.62" stroke="#222" stroke-width="1.1"/>
<line x1="29.30" y1="269.77" x2="32.20" y2="269.77" stroke="#222" stroke-width="1.1"/>
<line x1="29.30" y1="263.91" x2="32.20" y2="263.91" stroke="#222" stroke-width="1.1"/>
<line x1="29.30" y1="258.06" x2="32.20" y2="258.06" stroke="#222" stroke-width="1.1"/>
<line x1="26.70" y1="252.20" x2="32.20" y2="252.20" stroke="#151515" stroke-width="1.25"/>
<text transform="translate(23.20,398.60) rotate(-90) scale(0.72,1)" font-family='"Liberation Sans", sans-serif' font-size="11.6" text-anchor="middle" fill="#111" stroke="#111" stroke-width="0.4">0</text>
<text transform="translate(23.20,369.32) rotate(-90) scale(0.72,1)" font-family='"Liberation Sans", sans-serif' font-size="11.6" text-anchor="middle" fill="#111" stroke="#111" stroke-width="0.4">20</text>
<text transform="translate(23.20,340.04) rotate(-90) scale(0.72,1)" font-family='"Liberation Sans", sans-serif' font-size="11.6" text-anchor="middle" fill="#111" stroke="#111" stroke-width="0.4">40</text>
<text transform="translate(23.20,310.76) rotate(-90) scale(0.72,1)" font-family='"Liberation Sans", sans-serif' font-size="11.6" text-anchor="middle" fill="#111" stroke="#111" stroke-width="0.4">60</text>
<text transform="translate(23.20,281.48) rotate(-90) scale(0.72,1)" font-family='"Liberation Sans", sans-serif' font-size="11.6" text-anchor="middle" fill="#111" stroke="#111" stroke-width="0.4">80</text>
<text transform="translate(23.20,252.20) rotate(-90) scale(0.72,1)" font-family='"Liberation Sans", sans-serif' font-size="11.6" text-anchor="middle" fill="#111" stroke="#111" stroke-width="0.4">100</text>
<text transform="translate(11.10,327.20) rotate(-90)" font-family='"Liberation Sans", sans-serif' font-size="10.6" text-anchor="middle" fill="#111" stroke="#111" stroke-width="0.2" textLength="29.4" lengthAdjust="spacingAndGlyphs">Counts</text>
<line x1="32.20" y1="398.60" x2="32.20" y2="403.20" stroke="#151515" stroke-width="1.25"/>
<line x1="47.36" y1="398.60" x2="47.36" y2="401.20" stroke="#222" stroke-width="1.1"/>
<line x1="56.22" y1="398.60" x2="56.22" y2="401.20" stroke="#222" stroke-width="1.1"/>
<line x1="62.51" y1="398.60" x2="62.51" y2="401.20" stroke="#222" stroke-width="1.1"/>
<line x1="67.39" y1="398.60" x2="67.39" y2="401.20" stroke="#222" stroke-width="1.1"/>
<line x1="71.38" y1="398.60" x2="71.38" y2="401.20" stroke="#222" stroke-width="1.1"/>
<line x1="74.75" y1="398.60" x2="74.75" y2="401.20" stroke="#222" stroke-width="1.1"/>
<line x1="77.67" y1="398.60" x2="77.67" y2="401.20" stroke="#222" stroke-width="1.1"/>
<line x1="80.25" y1="398.60" x2="80.25" y2="401.20" stroke="#222" stroke-width="1.1"/>
<line x1="82.55" y1="398.60" x2="82.55" y2="403.20" stroke="#151515" stroke-width="1.25"/>
<line x1="97.71" y1="398.60" x2="97.71" y2="401.20" stroke="#222" stroke-width="1.1"/>
<line x1="106.57" y1="398.60" x2="106.57" y2="401.20" stroke="#222" stroke-width="1.1"/>
<line x1="112.86" y1="398.60" x2="112.86" y2="401.20" stroke="#222" stroke-width="1.1"/>
<line x1="117.74" y1="398.60" x2="117.74" y2="401.20" stroke="#222" stroke-width="1.1"/>
<line x1="121.73" y1="398.60" x2="121.73" y2="401.20" stroke="#222" stroke-width="1.1"/>
<line x1="125.10" y1="398.60" x2="125.10" y2="401.20" stroke="#222" stroke-width="1.1"/>
<line x1="128.02" y1="398.60" x2="128.02" y2="401.20" stroke="#222" stroke-width="1.1"/>
<line x1="130.60" y1="398.60" x2="130.60" y2="401.20" stroke="#222" stroke-width="1.1"/>
<line x1="132.90" y1="398.60" x2="132.90" y2="403.20" stroke="#151515" stroke-width="1.25"/>
<line x1="148.06" y1="398.60" x2="148.06" y2="401.20" stroke="#222" stroke-width="1.1"/>
<line x1="156.92" y1="398.60" x2="156.92" y2="401.20" stroke="#222" stroke-width="1.1"/>
<line x1="163.21" y1="398.60" x2="163.21" y2="401.20" stroke="#222" stroke-width="1.1"/>
<line x1="168.09" y1="398.60" x2="168.09" y2="401.20" stroke="#222" stroke-width="1.1"/>
<line x1="172.08" y1="398.60" x2="172.08" y2="401.20" stroke="#222" stroke-width="1.1"/>
<line x1="175.45" y1="398.60" x2="175.45" y2="401.20" stroke="#222" stroke-width="1.1"/>
<line x1="178.37" y1="398.60" x2="178.37" y2="401.20" stroke="#222" stroke-width="1.1"/>
<line x1="180.95" y1="398.60" x2="180.95" y2="401.20" stroke="#222" stroke-width="1.1"/>
<line x1="183.25" y1="398.60" x2="183.25" y2="403.20" stroke="#151515" stroke-width="1.25"/>
<line x1="198.41" y1="398.60" x2="198.41" y2="401.20" stroke="#222" stroke-width="1.1"/>
<line x1="207.27" y1="398.60" x2="207.27" y2="401.20" stroke="#222" stroke-width="1.1"/>
<line x1="213.56" y1="398.60" x2="213.56" y2="401.20" stroke="#222" stroke-width="1.1"/>
<line x1="218.44" y1="398.60" x2="218.44" y2="401.20" stroke="#222" stroke-width="1.1"/>
<line x1="222.43" y1="398.60" x2="222.43" y2="401.20" stroke="#222" stroke-width="1.1"/>
<line x1="225.80" y1="398.60" x2="225.80" y2="401.20" stroke="#222" stroke-width="1.1"/>
<line x1="228.72" y1="398.60" x2="228.72" y2="401.20" stroke="#222" stroke-width="1.1"/>
<line x1="231.30" y1="398.60" x2="231.30" y2="401.20" stroke="#222" stroke-width="1.1"/>
<line x1="233.60" y1="398.60" x2="233.60" y2="403.20" stroke="#151515" stroke-width="1.25"/>
<text transform="translate(35.70,413.20) scale(0.88,1)" font-family='"Liberation Sans", sans-serif' font-size="10.5" text-anchor="end" fill="#111" stroke="#111" stroke-width="0.4">10</text>
<text x="36.00" y="408.50" font-family='"Liberation Sans", sans-serif' font-size="10.5" text-anchor="start" fill="#111" stroke="#111" stroke-width="0.4">0</text>
<text transform="translate(84.95,413.20) scale(0.88,1)" font-family='"Liberation Sans", sans-serif' font-size="10.5" text-anchor="end" fill="#111" stroke="#111" stroke-width="0.4">10</text>
<text x="85.25" y="408.50" font-family='"Liberation Sans", sans-serif' font-size="10.5" text-anchor="start" fill="#111" stroke="#111" stroke-width="0.4">1</text>
<text transform="translate(137.50,413.20) scale(0.88,1)" font-family='"Liberation Sans", sans-serif' font-size="10.5" text-anchor="end" fill="#111" stroke="#111" stroke-width="0.4">10</text>
<text x="137.80" y="408.50" font-family='"Liberation Sans", sans-serif' font-size="10.5" text-anchor="start" fill="#111" stroke="#111" stroke-width="0.4">2</text>
<text transform="translate(185.85,413.20) scale(0.88,1)" font-family='"Liberation Sans", sans-serif' font-size="10.5" text-anchor="end" fill="#111" stroke="#111" stroke-width="0.4">10</text>
<text x="186.15" y="408.50" font-family='"Liberation Sans", sans-serif' font-size="10.5" text-anchor="start" fill="#111" stroke="#111" stroke-width="0.4">3</text>
<text transform="translate(234.60,413.20) scale(0.88,1)" font-family='"Liberation Sans", sans-serif' font-size="10.5" text-anchor="end" fill="#111" stroke="#111" stroke-width="0.4">10</text>
<text x="234.90" y="408.50" font-family='"Liberation Sans", sans-serif' font-size="10.5" text-anchor="start" fill="#111" stroke="#111" stroke-width="0.4">4</text>
<text x="132.20" y="422.60" font-family='"Liberation Sans", sans-serif' font-size="10.9" text-anchor="middle" fill="#111" stroke="#111" stroke-width="0.25">FL2-H</text>
<line x1="35.3" y1="397.6" x2="35.3" y2="292.0" stroke="#666" stroke-width="0.9"/>
<line x1="36.8" y1="397.6" x2="36.8" y2="350.5" stroke="#111" stroke-width="1.5"/>
<polyline points="37.5,395.5 41.2,383.0 43.8,368.0 46.2,343.0 48.8,323.0 50.0,312.0 51.5,290.0 53.0,273.0 54.2,262.3 55.5,270.0 57.5,283.0 60.0,296.0 63.0,308.0 65.5,318.0 67.5,330.5 71.2,343.0 75.0,350.5 78.8,360.5 82.5,370.5 86.2,380.5 90.0,386.8 95.0,391.8 100.0,393.5 107.5,394.6 135.0,395.6" fill="none" stroke="#111" stroke-width="1.2" stroke-dasharray="1.3 1.8" stroke-dashoffset="2.56" stroke-linejoin="round" />
<polyline points="37.5,394.6 38.5,393.8 39.5,393.7 40.5,393.3 41.5,393.0 42.5,392.7 43.5,393.3 44.5,393.0 45.5,391.9 46.5,392.6 47.5,392.6 48.5,393.0 49.5,392.2 50.5,391.2 51.5,390.0 52.5,389.8 53.5,389.2 54.5,387.6 55.5,385.5 56.5,384.3 57.5,381.1 58.5,381.4 59.5,380.6 60.5,377.4 61.5,375.8 62.5,375.4 63.5,372.1 64.5,372.3 65.5,368.7 66.5,367.7 67.5,363.9 68.5,363.7 69.5,364.1 70.5,358.2 71.5,360.9 72.5,353.9 73.5,355.3 74.5,354.8 75.5,351.0 76.5,350.5 77.5,350.2 78.5,346.6 79.5,341.0 80.5,344.6 81.5,343.7 82.5,340.8 83.5,339.4 84.5,338.5 85.5,334.6 86.5,336.9 87.5,341.3 88.5,340.4 89.5,340.3 90.5,339.0 91.5,340.5 92.5,343.6 93.5,344.1 94.5,345.6 95.5,346.2 96.5,349.7 97.5,349.4 98.5,352.1 99.5,355.9 100.5,353.6 101.5,359.3 102.5,359.3 103.5,359.6 104.5,363.8 105.5,366.0 106.5,370.5 107.5,372.1 108.5,375.2 109.5,373.2 110.5,374.4 111.5,375.6 112.5,378.5 113.5,378.5 114.5,378.8 115.5,378.9 116.5,382.6 117.5,380.0 118.5,382.1 119.5,383.0 120.5,384.5 121.5,383.8 122.5,386.8 123.5,386.6 124.5,386.8 125.5,387.9 126.5,389.1 127.5,389.5 128.5,391.1 129.5,390.8 130.5,392.1 131.5,393.2 132.5,392.8 133.5,393.5 134.5,393.8 135.5,393.1 136.5,394.5 137.5,394.2 138.5,394.6 139.5,394.8 140.5,394.8 141.5,394.8 142.5,394.6 143.5,395.3 144.5,395.2 145.5,395.4 146.5,395.4 147.5,395.2 148.5,395.4 149.5,395.4 150.5,395.4 151.5,395.2 152.5,395.4 153.5,395.4 154.5,395.4 155.5,395.4 156.5,395.4 157.5,395.4 158.5,395.4 159.5,395.4" fill="none" stroke="#6a6a6a" stroke-width="1.15" stroke-dasharray="2.5 0.8" stroke-linejoin="round" />
<polyline points="37.5,394.3 38.5,394.7 39.5,393.4 40.5,393.4 41.5,393.0 42.5,393.3 43.5,392.9 44.5,394.4 45.5,391.5 46.5,393.4 47.5,392.0 48.5,392.3 49.5,393.9 50.5,391.2 51.5,392.0 52.5,390.9 53.5,392.6 54.5,390.6 55.5,392.1 56.5,390.8 57.5,392.8 58.5,388.6 59.5,392.9 60.5,390.7 61.5,388.1 62.5,387.0 63.5,388.9 64.5,388.0 65.5,388.1 66.5,390.7 67.5,389.1 68.5,386.5 69.5,388.9 70.5,386.6 71.5,385.5 72.5,384.3 73.5,382.8 74.5,380.4 75.5,380.4 76.5,376.4 77.5,378.2 78.5,374.2 79.5,375.5 80.5,372.2 81.5,371.8 82.5,368.5 83.5,367.2 84.5,365.0 85.5,364.5 86.5,366.5 87.5,363.7 88.5,363.8 89.5,358.6 90.5,361.8 91.5,360.0 92.5,356.0 93.5,354.7 94.5,355.4 95.5,353.5 96.5,355.5 97.5,353.9 98.5,351.2 99.5,347.5 100.5,350.8 101.5,346.9 102.5,349.3 103.5,348.9 104.5,348.4 105.5,347.5 106.5,344.3 107.5,344.1 108.5,339.6 109.5,345.1 110.5,345.3 111.5,342.6 112.5,339.6 113.5,342.4 114.5,339.4 115.5,339.7 116.5,343.4 117.5,337.5 118.5,334.6 119.5,336.7 120.5,334.3 121.5,331.8 122.5,336.2 123.5,340.6 124.5,339.6 125.5,346.4 126.5,345.1 127.5,344.8 128.5,351.0 129.5,351.1 130.5,357.4 131.5,356.9 132.5,360.8 133.5,362.8 134.5,366.7 135.5,370.0 136.5,371.6 137.5,371.7 138.5,377.3 139.5,378.8 140.5,377.3 141.5,383.0 142.5,382.7 143.5,384.9 144.5,386.5 145.5,388.1 146.5,387.3 147.5,387.7 148.5,388.9 149.5,389.9 150.5,388.8 151.5,390.2 152.5,391.2 153.5,391.5 154.5,392.5 155.5,393.3 156.5,393.8 157.5,395.0 158.5,394.4 159.5,395.5 160.5,395.8 161.5,396.8 162.5,397.3 163.5,396.4 164.5,396.9 165.5,396.9 166.5,397.3 167.5,397.3 168.5,397.3 169.5,397.3 170.5,397.5 171.5,397.2 172.5,397.8 173.5,397.7 174.5,397.6 175.5,397.8 176.5,397.8 177.5,397.8 178.5,397.8 179.5,397.8 180.5,397.8 181.5,397.8 182.5,397.8 183.5,397.8 184.5,397.8 185.5,397.8 186.5,397.8 187.5,397.8 188.5,397.8 189.5,397.8 190.5,397.8 191.5,397.8 192.5,397.8 193.5,397.8 194.5,397.8 195.5,397.6 196.5,397.8 197.5,397.8 198.5,397.8 199.5,397.8 200.5,397.8 201.5,397.8 202.5,397.8 203.5,397.7 204.5,397.8 205.5,397.8 206.5,397.5 207.5,397.8 208.5,397.8 209.5,397.8 210.5,397.8 211.5,397.8 212.5,397.8 213.5,397.8 214.5,397.8 215.5,397.8 216.5,397.8 217.5,397.8 218.5,397.8 219.5,397.8 220.5,397.8 221.5,397.8 222.5,397.8 223.5,397.8 224.5,397.8 225.5,397.8 226.5,397.8 227.5,397.8 228.5,397.8 229.5,397.8 230.5,397.8 231.5,397.8 232.5,397.8 233.5,397.8" fill="none" stroke="#111" stroke-width="1.2" stroke-linejoin="round" />
<text x="80.2" y="273.1" font-family='"Liberation Sans", sans-serif' font-size="15.75" font-weight="normal" text-anchor="start" fill="#111" >isotype control</text>
<text x="96.0" y="304.9" font-family='"Liberation Sans", sans-serif' font-size="15.75" font-weight="normal" text-anchor="start" fill="#111" >U83A-N+ <tspan dx="2.3">CCL3</tspan></text>
<text x="168.5" y="331.6" font-family='"Liberation Sans", sans-serif' font-size="15.7" font-weight="normal" text-anchor="start" fill="#111" >U83A-N</text>
<line x1="92.5" y1="279.5" x2="75.4" y2="293.9" stroke="#0a0a0a" stroke-width="3.0"/>
<polygon points="67.5,300.5 72.8,289.3 79.5,297.2" fill="#0a0a0a"/>
<line x1="121.5" y1="308.5" x2="104.2" y2="323.7" stroke="#0a0a0a" stroke-width="3.0"/>
<polygon points="96.5,330.5 101.5,319.1 108.4,326.9" fill="#0a0a0a"/>
<line x1="154.0" y1="326.3" x2="136.5" y2="341.0" stroke="#0a0a0a" stroke-width="3.0"/>
<polygon points="128.6,347.6 133.9,336.4 140.6,344.3" fill="#0a0a0a"/>
<text x="263.4" y="235.0" font-family='"Liberation Sans", sans-serif' font-size="26" font-weight="bold" text-anchor="start" fill="#000" >D</text>
<text transform="translate(252.0,323.8) rotate(-90)" font-family='"Liberation Sans", sans-serif' font-size="15.7" font-weight="bold" text-anchor="middle" fill="#111" textLength="162" lengthAdjust="spacing">% total surface CCR5</text>
<line x1="284.6" y1="361.1" x2="520" y2="361.1" stroke="#bcbcbc" stroke-width="1.4"/>
<line x1="284.6" y1="336.4" x2="520" y2="336.4" stroke="#bcbcbc" stroke-width="1.4"/>
<line x1="284.6" y1="311.8" x2="520" y2="311.8" stroke="#bcbcbc" stroke-width="1.4"/>
<line x1="284.6" y1="287.1" x2="520" y2="287.1" stroke="#bcbcbc" stroke-width="1.4"/>
<line x1="284.6" y1="262.4" x2="520" y2="262.4" stroke="#bcbcbc" stroke-width="1.4"/>
<line x1="284.6" y1="237.7" x2="520" y2="237.7" stroke="#bcbcbc" stroke-width="1.4"/>
<text x="262.4" y="367.5" font-family='"Liberation Serif", serif' font-size="15" text-anchor="start" fill="#111">20</text>
<text x="262.4" y="336.7" font-family='"Liberation Serif", serif' font-size="15" text-anchor="start" fill="#111">40</text>
<text x="262.4" y="311.4" font-family='"Liberation Serif", serif' font-size="15" text-anchor="start" fill="#111">60</text>
<text x="262.4" y="286.7" font-family='"Liberation Serif", serif' font-size="15" text-anchor="start" fill="#111">80</text>
<text x="262.4" y="262.0" font-family='"Liberation Serif", serif' font-size="15" text-anchor="start" fill="#111">100</text>
<line x1="389.5" y1="270.1" x2="389.5" y2="261.2" stroke="#111" stroke-width="1"/>
<line x1="387.0" y1="261.2" x2="392.0" y2="261.2" stroke="#111" stroke-width="1.3"/>
<line x1="411.5" y1="281.3" x2="411.5" y2="275.8" stroke="#111" stroke-width="1"/>
<line x1="409.5" y1="275.8" x2="413.5" y2="275.8" stroke="#111" stroke-width="1.3"/>
<line x1="466.5" y1="261.9" x2="466.5" y2="260.6" stroke="#111" stroke-width="1"/>
<line x1="465.3" y1="260.6" x2="467.7" y2="260.6" stroke="#111" stroke-width="1.3"/>
<line x1="489.5" y1="338.9" x2="489.5" y2="319.5" stroke="#111" stroke-width="1"/>
<line x1="487.9" y1="319.5" x2="491.1" y2="319.5" stroke="#111" stroke-width="1.3"/>
<rect x="300.5" y="262.4" width="23.2" height="123.4" fill="#373737" stroke="#111" stroke-width="1"/>
<rect x="323.7" y="363.2" width="22.5" height="22.6" fill="#a3a3a3" stroke="#111" stroke-width="1"/>
<rect x="378.5" y="270.1" width="22.0" height="115.7" fill="#373737" stroke="#111" stroke-width="1"/>
<rect x="400.5" y="281.3" width="22.0" height="104.5" fill="#a3a3a3" stroke="#111" stroke-width="1"/>
<rect x="455.0" y="261.9" width="23.4" height="123.9" fill="#373737" stroke="#111" stroke-width="1"/>
<rect x="478.4" y="339.2" width="21.6" height="46.6" fill="#a3a3a3" stroke="#111" stroke-width="1"/>
<line x1="284.6" y1="238.0" x2="284.6" y2="386.3" stroke="#111" stroke-width="1.1"/>
<line x1="284.1" y1="385.8" x2="517.5" y2="385.8" stroke="#111" stroke-width="1.2"/>
<line x1="285.0" y1="383.8" x2="285.0" y2="388.3" stroke="#111" stroke-width="1.1"/>
<line x1="362.5" y1="383.8" x2="362.5" y2="388.3" stroke="#111" stroke-width="1.1"/>
<line x1="440.0" y1="383.8" x2="440.0" y2="388.3" stroke="#111" stroke-width="1.1"/>
<line x1="517.5" y1="383.8" x2="517.5" y2="388.3" stroke="#111" stroke-width="1.1"/>
<line x1="282.6" y1="361.1" x2="285.6" y2="361.1" stroke="#111" stroke-width="1"/>
<line x1="282.6" y1="336.4" x2="285.6" y2="336.4" stroke="#111" stroke-width="1"/>
<line x1="282.6" y1="311.8" x2="285.6" y2="311.8" stroke="#111" stroke-width="1"/>
<line x1="282.6" y1="287.1" x2="285.6" y2="287.1" stroke="#111" stroke-width="1"/>
<line x1="282.6" y1="262.4" x2="285.6" y2="262.4" stroke="#111" stroke-width="1"/>
<line x1="282.6" y1="237.7" x2="285.6" y2="237.7" stroke="#111" stroke-width="1"/>
<rect x="400.5" y="241.6" width="5.6" height="5.6" fill="#373737" stroke="#111" stroke-width="1"/>
<rect x="400.5" y="254.9" width="5.6" height="5.6" fill="#a3a3a3" stroke="#111" stroke-width="1"/>
<text x="409.6" y="247.1" font-family='"Liberation Sans", sans-serif' font-size="14.9" font-weight="normal" text-anchor="start" fill="#111" >Buffer</text>
<line x1="285.6" y1="237.7" x2="520" y2="237.7" stroke="#bcbcbc" stroke-width="1.4"/>
<text x="410.6" y="263.4" font-family='"Liberation Sans", sans-serif' font-size="15.7" font-weight="normal" text-anchor="start" fill="#111" >CCL3</text>
<text x="327.1" y="405.9" font-family='"Liberation Sans", sans-serif' font-size="15.9" font-weight="normal" text-anchor="middle" fill="#111" >Buffer</text>
<text x="403.8" y="405.3" font-family='"Liberation Sans", sans-serif' font-size="15" font-weight="normal" text-anchor="middle" fill="#111" >U83A</text>
<text x="418.4" y="421.0" font-family='"Liberation Sans", sans-serif' font-size="15.7" font-weight="normal" text-anchor="middle" fill="#111" >Pretreatment</text>
<text x="479.8" y="409.3" font-family='"Liberation Sans", sans-serif' font-size="15.5" font-weight="normal" text-anchor="middle" fill="#111" >U83A-N</text>
</svg>
</body></html>
